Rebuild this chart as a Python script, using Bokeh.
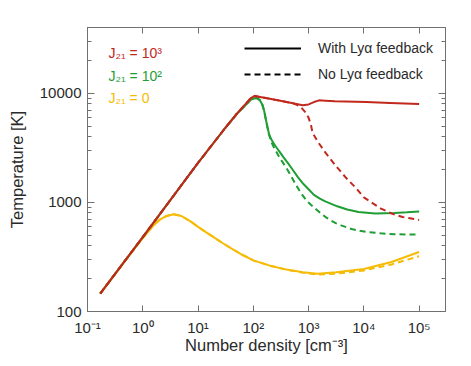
from bokeh.plotting import figure
from bokeh.models import (LogAxis, FixedTicker, CustomJSTickFormatter, Label,
                          Legend, LegendItem)
from bokeh.embed import file_html
from bokeh.resources import INLINE

# ---------------- data ----------------
red_solid_n = [0.17, 1, 10, 31, 50, 72, 90, 107, 125, 167, 250, 360, 550, 780,
               1000, 1250, 1550, 2000, 3000, 1.1e4, 3e4, 1e5]
red_solid_T = [146, 481, 2300, 4800, 6450, 7950, 9000, 9440, 9300, 9050, 8700,
               8410, 8050, 7770, 7900, 8300, 8600, 8550, 8450, 8320, 8150, 7950]

red_dash_n = [0.17, 1, 10, 31, 50, 72, 90, 107, 125, 167, 250, 360, 550, 720,
              890, 1000, 1100, 1175, 1450, 2050, 3160, 4800, 7250, 1e4, 2e4,
              3.2e4, 5e4, 1e5]
red_dash_T = [146, 481, 2300, 4800, 6450, 7950, 9000, 9440, 9300, 9050, 8700,
              8410, 8020, 7500, 6620, 5950, 5180, 4360, 3630, 2820, 2140, 1670,
              1350, 1110, 880, 790, 735, 690]

green_solid_n = [0.17, 1, 10, 31, 50, 72, 90, 113, 130, 145, 157, 167, 180, 192,
                 210, 235, 260, 300, 350, 420, 520, 630, 800, 1000, 1250, 1600,
                 2000, 2500, 3300, 5000, 8000, 1.6e4, 3.6e4, 6e4, 1e5]
green_solid_T = [146, 481, 2300, 4800, 6450, 7750, 8750, 9050, 8700, 7900, 6900,
                 5900, 4900, 4250, 3800, 3450, 3200, 2900, 2600, 2300, 1980, 1720,
                 1480, 1320, 1170, 1080, 1020, 975, 920, 860, 815, 790, 800, 812,
                 825]

green_dash_n = [0.17, 1, 10, 31, 50, 72, 90, 113, 130, 145, 157, 167, 180, 192,
                210, 235, 257, 300, 390, 480, 590, 725, 900, 1100, 1350, 1670,
                2100, 2500, 3100, 3880, 6000, 8000, 1.18e4, 2e4, 3.6e4, 1e5]
green_dash_T = [146, 481, 2300, 4800, 6450, 7750, 8750, 9050, 8700, 7900, 6900,
                5900, 4900, 4200, 3600, 3200, 2950, 2550, 2100, 1750, 1450, 1220,
                1050, 950, 870, 790, 725, 685, 645, 615, 570, 550, 535, 520, 510,
                507]

yellow_solid_n = [0.17, 0.5, 1.0, 1.5, 2.0, 2.7, 3.6, 5.0, 7.1, 10, 14.1, 20,
                  28.2, 39.8, 63, 100, 200, 398, 794, 1450, 3160, 1e4, 3.16e4, 1e5]
yellow_solid_T = [146, 300, 470, 600, 690, 750, 777, 750, 676, 596, 531, 473,
                  422, 378, 331, 294, 263, 242, 229, 222, 229, 245, 284, 351]

yellow_dash_n = [0.17, 0.5, 1.0, 1.5, 2.0, 2.7, 3.6, 5.0, 7.1, 10, 14.1, 20,
                 28.2, 39.8, 63, 100, 200, 398, 794, 1450, 3160, 1e4, 3.16e4, 1e5]
yellow_dash_T = [146, 300, 470, 600, 690, 750, 777, 750, 676, 596, 531, 473,
                 422, 378, 331, 294, 263, 242, 226, 218, 222, 238, 270, 321]

x_ticks = [0.1, 1, 10, 100, 1e3, 1e4, 1e5]
x_tick_labels = ["10\u207b\u00b9", "10\u2070", "10\u00b9", "10\u00b2",
                 "10\u00b3", "10\u2074", "10\u2075"]
y_ticks = [100, 1000, 10000]
y_tick_labels = ["100", "1000", "10000"]
y_minor = [200, 300, 400, 500, 600, 700, 800, 900,
           2000, 3000, 4000, 5000, 6000, 7000, 8000, 9000,
           20000, 30000, 40000]

series_labels = ["J\u2082\u2081 = 10\u00b3", "J\u2082\u2081 = 10\u00b2", "J\u2082\u2081 = 0"]
legend_labels = ["With Ly\u03b1 feedback", "No Ly\u03b1 feedback"]

# ---------------- style ----------------
RED = "#c0291c"
GREEN = "#1f9e34"
YELLOW = "#f6bb05"
AXC = "#707070"
TXT = "#2a2a2a"
FONT = "Liberation Sans"

p = figure(x_axis_type="log", y_axis_type="log",
           x_range=(0.1, 3e5), y_range=(100, 4e4),
           frame_width=358, frame_height=284,
           min_border_left=87, min_border_right=16,
           min_border_top=27, min_border_bottom=45,
           output_backend="svg", toolbar_location=None)
p.xgrid.visible = False
p.ygrid.visible = False
p.outline_line_color = AXC
p.background_fill_color = "white"
p.border_fill_color = "white"

FMT_CODE = """
const i = tvals.findIndex(t => Math.abs(Math.log10(t) - Math.log10(tick)) < 1e-6);
return i >= 0 ? tlabels[i] : '';
"""
x_fmt = CustomJSTickFormatter(args=dict(tvals=x_ticks, tlabels=x_tick_labels), code=FMT_CODE)
y_fmt = CustomJSTickFormatter(args=dict(tvals=y_ticks, tlabels=y_tick_labels), code=FMT_CODE)

xa = p.xaxis[0]
xa.ticker = FixedTicker(ticks=x_ticks)
xa.formatter = x_fmt
ya = p.yaxis[0]
ya.ticker = FixedTicker(ticks=y_ticks, minor_ticks=y_minor)
ya.formatter = y_fmt

for ax in (xa, ya):
    ax.axis_line_color = AXC
    ax.major_tick_line_color = AXC
    ax.minor_tick_line_color = AXC
    ax.major_tick_in = 7
    ax.major_tick_out = 0
    ax.minor_tick_in = 4
    ax.minor_tick_out = 0
    ax.major_label_text_font = FONT
    ax.major_label_text_font_size = "15px"
    ax.major_label_text_color = TXT
    ax.axis_label_text_font = FONT
    ax.axis_label_text_font_size = "16.5px"
    ax.axis_label_text_font_style = "normal"
    ax.axis_label_text_color = TXT
xa.minor_tick_line_color = None
xa.major_tick_in = 6
xa.major_label_standoff = 7
xa.axis_label = "Number density [cm\u207b\u00b3]"
xa.axis_label_standoff = -3
ya.major_label_standoff = 6
ya.axis_label = "Temperature [K]"
ya.axis_label_standoff = 11

top = LogAxis(ticker=FixedTicker(ticks=x_ticks), major_label_text_font_size="2px",
              major_label_text_alpha=0,
              axis_line_color=AXC, major_tick_line_color=AXC, minor_tick_line_color=None,
              major_tick_in=6, major_tick_out=0, major_label_standoff=0)
right = LogAxis(ticker=FixedTicker(ticks=y_ticks, minor_ticks=y_minor),
                major_label_text_font_size="2px", major_label_text_alpha=0,
                axis_line_color=AXC, major_tick_line_color=AXC, minor_tick_line_color=AXC,
                major_tick_in=7, major_tick_out=0, minor_tick_in=4, minor_tick_out=0,
                major_label_standoff=0)
p.add_layout(top, "above")
p.add_layout(right, "right")

LW = 2
DASH = "6 4"
# yellow (J21 = 0)
p.line(yellow_dash_n, yellow_dash_T, color=YELLOW, line_width=LW, line_dash=DASH)
p.line(yellow_solid_n, yellow_solid_T, color=YELLOW, line_width=LW)
# green (J21 = 10^2)
p.line(green_dash_n, green_dash_T, color=GREEN, line_width=LW, line_dash=DASH)
p.line(green_solid_n, green_solid_T, color=GREEN, line_width=LW)
# red (J21 = 10^3)
p.line(red_dash_n, red_dash_T, color=RED, line_width=LW, line_dash=DASH)
p.line(red_solid_n, red_solid_T, color=RED, line_width=LW)

# legend for line styles (hidden renderers only provide the legend glyphs)
r_solid = p.line(red_solid_n, red_solid_T, color="black", line_width=LW, visible=False)
r_dash = p.line(red_dash_n, red_dash_T, color="black", line_width=LW,
                line_dash=DASH, visible=False)
legend = Legend(items=[LegendItem(label=legend_labels[0], renderers=[r_solid]),
                       LegendItem(label=legend_labels[1], renderers=[r_dash])],
                location=(157, 227), glyph_width=57, glyph_height=20,
                label_standoff=17, spacing=6, padding=0, margin=0,
                border_line_color=None, background_fill_alpha=0,
                inactive_fill_alpha=0,
                label_text_font=FONT, label_text_font_size="14px",
                label_text_color=TXT)
p.add_layout(legend)

# series labels
for txt, col, yy in zip(series_labels, [RED, GREEN, YELLOW], [23300, 14300, 9000]):
    p.add_layout(Label(x=0.24, y=yy, text=txt, text_color=col, text_font=FONT,
                       text_font_size="14px", text_baseline="middle"))

open("out.html", "w").write(file_html(p, INLINE))
